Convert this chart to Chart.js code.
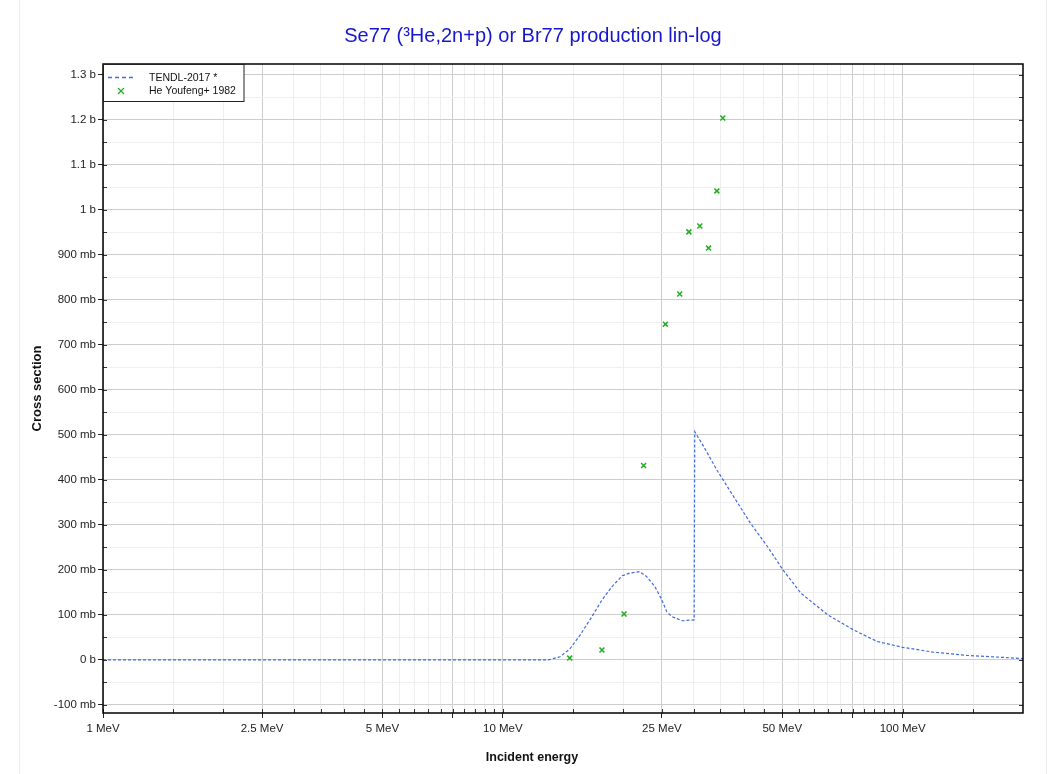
<!DOCTYPE html>
<html>
<head>
<title>Se77 (3He,2n+p) or Br77 production lin-log</title>
<script src="https://cdn.jsdelivr.net/npm/chart.js"></script>
<style>
body{margin:0;background:#fff;font-family:"Liberation Sans",Arial,sans-serif}
#wrap{position:relative;width:1049px;height:774px}
#title{position:absolute;left:0;width:1066px;top:24px;line-height:23px;text-align:center;color:#1616cc;font-size:20px}
#xtitle{position:absolute;left:0;width:1064px;top:749px;line-height:16px;text-align:center;font-weight:bold;font-size:12.5px;color:#111}
</style>
</head>
<body>
<div id="wrap">
    <canvas id="xsChart" width="1049" height="774"></canvas>
    <div id="title">Se77 (³He,2n+p) or Br77 production lin-log</div>
    <div id="xtitle">Incident energy</div>
</div>
<script>
// TENDL-2017 evaluated curve (MeV, mb)
const tendlE  = [1, 13.0, 13.9, 14.7, 15.6, 16.7, 17.7, 18.75, 19.9, 20.8, 22.0, 22.9, 24.0, 25.0, 25.7, 26.5, 28.1, 30.1, 30.2, 31.8, 34.3, 37.1, 41.6, 45.9, 50.1, 55.7, 65.0, 75.2, 86.3, 100, 119.7, 145, 200];
const tendlXs = [0, 0, 7, 24, 55, 96, 133, 163, 187, 193, 196, 185, 163, 133, 107, 96, 87, 89, 507, 474, 422, 374, 304, 252, 201, 148, 100, 67, 41, 28, 17, 10, 3];

// He Youfeng+ 1982 measurements (MeV, mb)
const expE  = [14.7, 17.7, 20.1, 22.5, 25.5, 27.7, 29.2, 31.1, 32.7, 34.3, 35.5];
const expXs = [4, 22, 102, 432, 746, 813, 951, 964, 915, 1042, 1204];

// axis ticks
const xTickVals  = [1,1.5,2,2.5,3,3.5,4,4.5,5,5.5,6,6.5,7,7.5,8,8.5,9,9.5,10,15,20,25,30,35,40,45,50,55,60,65,70,75,80,85,90,95,100,150];
const xMajor     = [1,2.5,5,7.5,10,25,50,75,100];
const xLabelled  = [1,2.5,5,10,25,50,100];
const yTickVals  = [];
for (let v=-100; v<=1300; v+=50) yTickVals.push(v);

const FONT = '"Liberation Sans", Arial, sans-serif';
const BLUE = '#3f6be0', GREEN = '#22aa22';

function yLabel(v){
    if (v % 100 !== 0) return '';
    if (v === 0) return '0 b';
    if (Math.abs(v) >= 1000) return (v/1000)+' b';
    return v+' mb';
}

const frame = {
    id:'frame',
    beforeDraw(c){
        const g=c.ctx;
        g.save();
        g.strokeStyle='#ececec'; g.lineWidth=1;
        g.beginPath(); g.moveTo(19.5,0); g.lineTo(19.5,774); g.moveTo(1046.5,0); g.lineTo(1046.5,774); g.stroke();
        g.restore();
    },
    afterDraw(c){
        const g=c.ctx, a=c.chartArea, xs=c.scales.x, ys=c.scales.y;
        g.save();
        g.strokeStyle='#333'; g.lineWidth=1;
        g.beginPath();
        xs.ticks.forEach(t=>{
            const px=Math.round(xs.getPixelForValue(t.value))+0.5;
            g.moveTo(px,a.bottom); g.lineTo(px,a.bottom-4);
        });
        ys.ticks.forEach(t=>{
            const py=Math.round(ys.getPixelForValue(t.value))+0.5;
            g.moveTo(a.left,py); g.lineTo(a.left+4,py);
            g.moveTo(a.right,py); g.lineTo(a.right-4,py);
        });
        g.stroke();
        g.strokeStyle='#000'; g.lineWidth=1.5;
        g.strokeRect(a.left,a.top,a.right-a.left,a.bottom-a.top);

        // legend box
        const bx=103.5, by=64.5, bw=140.5, bh=37;
        g.fillStyle='#fff'; g.fillRect(bx,by,bw,bh);
        g.strokeStyle='#222'; g.lineWidth=1; g.strokeRect(bx,by,bw,bh);
        const ds=c.data.datasets;
        g.strokeStyle=BLUE; g.lineWidth=1.5; g.setLineDash([4,3]);
        g.beginPath(); g.moveTo(108,77.5); g.lineTo(135,77.5); g.stroke();
        g.setLineDash([]);
        g.strokeStyle=GREEN; g.lineWidth=1.2;
        g.beginPath(); g.moveTo(118,88); g.lineTo(124,94); g.moveTo(124,88); g.lineTo(118,94); g.stroke();
        g.fillStyle='#111'; g.font='10.5px '+FONT; g.textBaseline='middle';
        g.fillText(ds[0].label,149,78);
        g.fillText(ds[1].label,149,91);
        g.restore();
    }
};

const ctx=document.getElementById('xsChart').getContext('2d');
new Chart(ctx,{
    type:'line',
    data:{datasets:[
        {label:'TENDL-2017 *',data:tendlE.map((e,i)=>({x:e,y:tendlXs[i]})),borderColor:BLUE,borderWidth:1.2,borderDash:[3,2],pointRadius:0,tension:0,fill:false},
        {label:'He Youfeng+ 1982',data:expE.map((e,i)=>({x:e,y:expXs[i]})),showLine:false,pointStyle:'crossRot',pointRadius:3.5,borderColor:GREEN,backgroundColor:GREEN,pointBorderWidth:1.5}
    ]},
    options:{
        responsive:false,
        animation:false,
        layout:{padding:{top:64,right:26,bottom:0,left:0}},
        plugins:{legend:{display:false},tooltip:{enabled:false},title:{display:false}},
        scales:{
            x:{
                type:'logarithmic',min:1,max:200,
                afterBuildTicks:s=>{s.ticks=xTickVals.map(v=>({value:v}));},
                afterFit:s=>{s.height=61;},
                grid:{
                    color:c=>xMajor.includes(c.tick.value)?'#cdcdcd':'#efefef',
                    tickColor:c=>xMajor.includes(c.tick.value)?'#222':'rgba(0,0,0,0)',
                    tickLength:5
                },
                border:{display:false},
                ticks:{
                    autoSkip:false,maxRotation:0,padding:4,color:'#222',
                    font:{family:FONT,size:11.5},
                    callback:v=>xLabelled.includes(v)?v+' MeV':''
                }
            },
            y:{
                type:'linear',min:-118,max:1324,
                afterBuildTicks:s=>{s.ticks=yTickVals.map(v=>({value:v}));},
                afterFit:s=>{s.width=103;},
                grid:{
                    color:c=>c.tick.value%100===0?'#cdcdcd':'#efefef',
                    tickColor:c=>c.tick.value%100===0?'#222':'rgba(0,0,0,0)',
                    tickLength:5
                },
                border:{display:false},
                ticks:{
                    autoSkip:false,padding:2,color:'#222',
                    font:{family:FONT,size:11.5},
                    callback:v=>yLabel(v)
                },
                title:{display:true,text:'Cross section',color:'#111',font:{family:FONT,size:13,weight:'bold'},padding:{top:30,bottom:0}}
            }
        }
    },
    plugins:[frame]
});
</script>
</body>
</html>
